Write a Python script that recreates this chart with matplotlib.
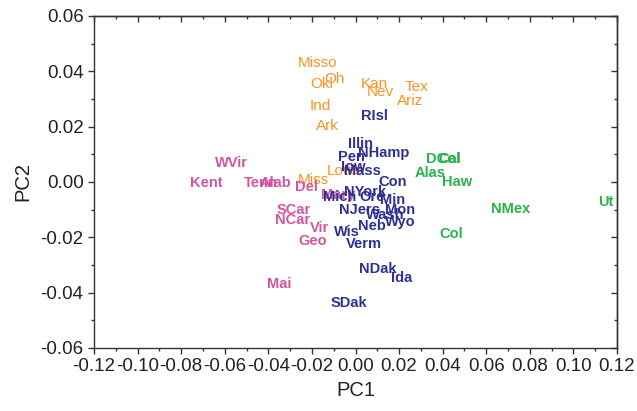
import matplotlib
matplotlib.use("Agg")
import matplotlib.pyplot as plt
from matplotlib.ticker import MultipleLocator, FormatStrFormatter

plt.rcParams['font.family'] = ['Liberation Sans', 'DejaVu Sans']

# PCA scores per state, grouped by cluster
orange_names = ["Misso", "Oh", "Okl", "Kan", "Nev", "Tex", "Ariz", "Ind", "Ark", "Louis", "Miss"]
orange_pc1 = [-0.0173, -0.0095, -0.0154, 0.0084, 0.0112, 0.0282, 0.0250, -0.0163, -0.0127, -0.0049, -0.0195]
orange_pc2 = [0.0430, 0.0372, 0.0354, 0.0354, 0.0325, 0.0343, 0.0293, 0.0275, 0.0202, 0.0040, 0.0007]

navy_names = ["RIsl", "Illin", "NHamp", "Pen", "Iow", "Mass", "Con", "NYork", "Mich", "Ore",
              "Min", "Mon", "NJers", "Wash", "Wyo", "Neb", "Wis", "Verm", "NDak", "Ida", "SDak"]
navy_pc1 = [0.0089, 0.0025, 0.0130, -0.0017, -0.0012, 0.0034, 0.0172, 0.0043, -0.0072, 0.0075,
            0.0172, 0.0204, 0.0020, 0.0135, 0.0204, 0.0075, -0.0039, 0.0039, 0.0103, 0.0213, -0.0030]
navy_pc2 = [0.0239, 0.0137, 0.0105, 0.0090, 0.0054, 0.0040, 0.0000, -0.0036, -0.0054, -0.0054,
            -0.0065, -0.0101, -0.0101, -0.0119, -0.0145, -0.0159, -0.0181, -0.0224, -0.0314, -0.0347, -0.0437]

pink_names = ["WVir", "Kent", "Tenn", "Alab", "Del", "Mary", "SCar", "NCar", "Vir", "Geo", "Mai"]
pink_pc1 = [-0.0571, -0.0686, -0.0434, -0.0365, -0.0223, -0.0081, -0.0283, -0.0287, -0.0163, -0.0195, -0.0351]
pink_pc2 = [0.0069, -0.0004, -0.0004, -0.0004, -0.0018, -0.0047, -0.0101, -0.0137, -0.0166, -0.0213, -0.0369]

green_names = ["DCol", "Cal", "Alas", "Haw", "NMex", "Ut", "Col"]
green_pc1 = [0.0401, 0.0433, 0.0341, 0.0465, 0.0713, 0.1149, 0.0438]
green_pc2 = [0.0083, 0.0083, 0.0033, 0.0000, -0.0098, -0.0072, -0.0188]

groups = [
    (orange_names, orange_pc1, orange_pc2, "#F7941D", "normal", 11),
    (pink_names, pink_pc1, pink_pc2, "#D2559F", "bold", 10.5),
    (navy_names, navy_pc1, navy_pc2, "#2E3192", "bold", 10.5),
    (green_names, green_pc1, green_pc2, "#2BB24C", "bold", 10.5),
]

fig = plt.figure(figsize=(6.37, 4.11), dpi=100)
ax = fig.add_axes([0.1476, 0.1533, 0.8210, 0.8078])

for names, xs, ys, color, weight, size in groups:
    for name, x, y in zip(names, xs, ys):
        ax.text(x, y, name, color=color, fontsize=size, fontweight=weight,
                ha="center", va="center")

ax.set_xlim(-0.12, 0.12)
ax.set_ylim(-0.06, 0.06)
ax.xaxis.set_major_locator(MultipleLocator(0.02))
ax.xaxis.set_minor_locator(MultipleLocator(0.01))
ax.yaxis.set_major_locator(MultipleLocator(0.02))
ax.yaxis.set_minor_locator(MultipleLocator(0.01))
ax.xaxis.set_major_formatter(FormatStrFormatter("%.2f"))
ax.yaxis.set_major_formatter(FormatStrFormatter("%.2f"))

axis_color = "#333333"
for sp in ax.spines.values():
    sp.set_color(axis_color)
    sp.set_linewidth(1.0)

ax.tick_params(which="major", direction="out", length=4.5, width=1.0, color=axis_color,
               labelsize=13.5, labelcolor="#222222", pad=3)
ax.tick_params(which="minor", direction="out", length=2.5, width=1.0, color=axis_color)

# inward ticks on the top and right frame edges
top = ax.secondary_xaxis("top")
top.xaxis.set_major_locator(MultipleLocator(0.02))
top.xaxis.set_minor_locator(MultipleLocator(0.01))
top.tick_params(which="major", direction="in", length=4.5, width=1.0, color=axis_color, labeltop=False)
top.tick_params(which="minor", direction="in", length=2.5, width=1.0, color=axis_color)
right = ax.secondary_yaxis("right")
right.yaxis.set_major_locator(MultipleLocator(0.02))
right.yaxis.set_minor_locator(MultipleLocator(0.01))
right.tick_params(which="major", direction="in", length=4.5, width=1.0, color=axis_color, labelright=False)
right.tick_params(which="minor", direction="in", length=2.5, width=1.0, color=axis_color)
for sec in (top, right):
    for sp in sec.spines.values():
        sp.set_color(axis_color)
        sp.set_linewidth(1.0)

ax.set_xlabel("PC1", fontsize=14.5, color="#222222", labelpad=4)
ax.set_ylabel("PC2", fontsize=14.5, color="#222222", labelpad=6)

fig.savefig("out.png", dpi=100)
